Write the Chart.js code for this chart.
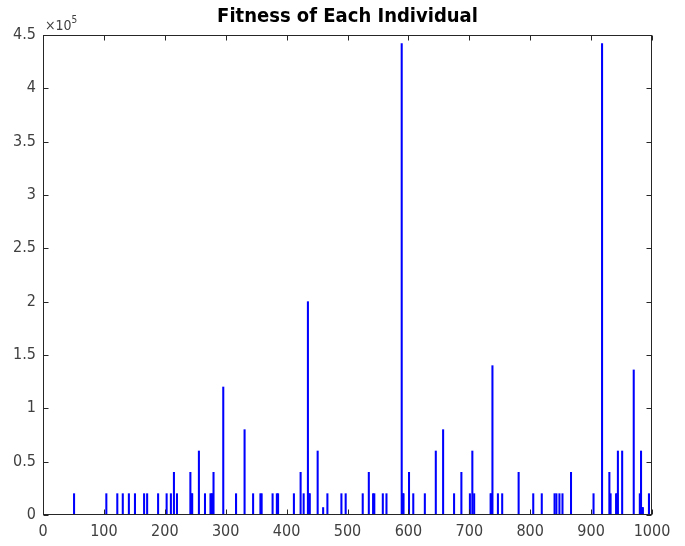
<!DOCTYPE html>
<html>
<head>
<meta charset="utf-8">
<script src="https://cdn.jsdelivr.net/npm/chart.js@4/dist/chart.umd.min.js"></script>
<style>
  html, body { margin: 0; padding: 0; background: #fff; }
  canvas { display: block; }
</style>
</head>
<body>
<canvas id="c" width="685" height="546"></canvas>
<script>
// Individuals with non-zero fitness (all others are zero)
const individuals = [
  51, 104, 122, 131, 141, 151, 166, 171, 189, 203, 210, 215, 220, 242, 244, 245,
  256, 266, 275, 277, 278, 280, 296, 317, 331, 345, 357, 359, 377, 384, 386, 412,
  423, 428, 435, 437, 438, 451, 460, 467, 490, 497, 525, 535, 542, 544, 558, 564,
  589, 591, 592, 601, 608, 627, 645, 657, 675, 687, 701, 705, 708, 735, 736, 738,
  747, 754, 781, 805, 819, 840, 843, 848, 853, 867, 904, 918, 930, 932, 941, 943,
  944, 951, 970, 980, 982, 984, 985, 995
];
const fitness = [
  20000, 20000, 20000, 20000, 20000, 20000, 20000, 20000, 20000, 20000, 20000, 40000, 20000, 40000, 20000, 20000,
  60000, 20000, 20000, 20000, 20000, 40000, 120000, 20000, 80000, 20000, 20000, 20000, 20000, 20000, 20000, 20000,
  40000, 20000, 200000, 20000, 20000, 60000, 7000, 20000, 20000, 20000, 20000, 40000, 20000, 20000, 20000, 20000,
  442000, 20000, 20000, 40000, 20000, 20000, 60000, 80000, 20000, 40000, 20000, 60000, 20000, 20000, 20000, 140000,
  20000, 20000, 40000, 20000, 20000, 20000, 20000, 20000, 20000, 40000, 20000, 442000, 40000, 20000, 20000, 20000,
  60000, 60000, 136000, 20000, 60000, 7000, 7000, 20000
];
const xTicks = [0, 100, 200, 300, 400, 500, 600, 700, 800, 900, 1000];
const yTicks = [0, 50000, 100000, 150000, 200000, 250000, 300000, 350000, 400000, 450000];
const yExponent = 5;
const titleText = 'Fitness of Each Individual';

const FONT = '"Liberation Sans Narrow", "DejaVu Sans Condensed", Lato, sans-serif';
const AXIS_COLOR = '#262626';
const LABEL_COLOR = '#404040';

const points = individuals.map((x, i) => ({ x: x, y: fitness[i] }));

// Axes box, inward ticks, exponent note and title
const boxPlugin = {
  id: 'box',
  afterDatasetsDraw(chart) {
    const ctx = chart.ctx;
    const a = chart.chartArea;
    const xs = chart.scales.x, ys = chart.scales.y;
    const L = Math.round(a.left) + 0.5, R = Math.round(a.right) - 0.5;
    const T = Math.round(a.top) + 0.5, B = Math.round(a.bottom) - 0.5;
    ctx.save();
    ctx.strokeStyle = AXIS_COLOR;
    ctx.lineWidth = 1;
    ctx.beginPath();
    xTicks.forEach(v => {
      const px = Math.round(xs.getPixelForValue(v)) + 0.5;
      ctx.moveTo(px, B); ctx.lineTo(px, B - 5);
      ctx.moveTo(px, T); ctx.lineTo(px, T + 5);
    });
    yTicks.forEach(v => {
      const py = Math.round(ys.getPixelForValue(v)) + 0.5;
      ctx.moveTo(L, py); ctx.lineTo(L + 5, py);
      ctx.moveTo(R, py); ctx.lineTo(R - 5, py);
    });
    ctx.stroke();
    ctx.strokeRect(L, T, R - L, B - T);

    // exponent label
    ctx.fillStyle = LABEL_COLOR;
    ctx.textBaseline = 'alphabetic';
    ctx.textAlign = 'left';
    ctx.font = '14px ' + FONT;
    ctx.fillText('\u00d710', a.left + 2, a.top - 5);
    const w = ctx.measureText('\u00d710').width;
    ctx.font = '10px ' + FONT;
    ctx.fillText(String(yExponent), a.left + 2 + w, a.top - 12);

    // title
    ctx.fillStyle = '#000';
    ctx.textAlign = 'center';
    ctx.font = 'bold 20px ' + FONT;
    ctx.fillText(titleText, (a.left + a.right) / 2, 22);
    ctx.restore();
  }
};

new Chart(document.getElementById('c'), {
  type: 'bar',
  data: {
    datasets: [{
      data: points,
      backgroundColor: 'rgb(0,0,255)',
      borderWidth: 0,
      barThickness: 1.4
    }]
  },
  options: {
    responsive: false,
    devicePixelRatio: 1,
    animation: false,
    layout: { padding: { left: 0, right: 33, top: 35, bottom: 0 } },
    plugins: { legend: { display: false }, tooltip: { enabled: false }, title: { display: false } },
    scales: {
      x: {
        type: 'linear',
        min: 0, max: 1000,
        offset: false,
        grid: { display: false, drawTicks: false },
        border: { display: false },
        afterBuildTicks(scale) { scale.ticks = xTicks.map(v => ({ value: v })); },
        afterFit(scale) { scale.height = 31; },
        ticks: {
          autoSkip: false, maxRotation: 0,
          padding: 7,
          color: LABEL_COLOR,
          font: { family: FONT, size: 16 },
          callback: v => String(v)
        }
      },
      y: {
        min: 0, max: 450000,
        grid: { display: false, drawTicks: false },
        border: { display: false },
        afterBuildTicks(scale) { scale.ticks = yTicks.map(v => ({ value: v })); },
        afterFit(scale) { scale.width = 43; },
        ticks: {
          padding: 7,
          color: LABEL_COLOR,
          font: { family: FONT, size: 16 },
          callback: v => String(Number((v / Math.pow(10, yExponent)).toFixed(1)))
        }
      }
    }
  },
  plugins: [boxPlugin]
});
</script>
</body>
</html>
